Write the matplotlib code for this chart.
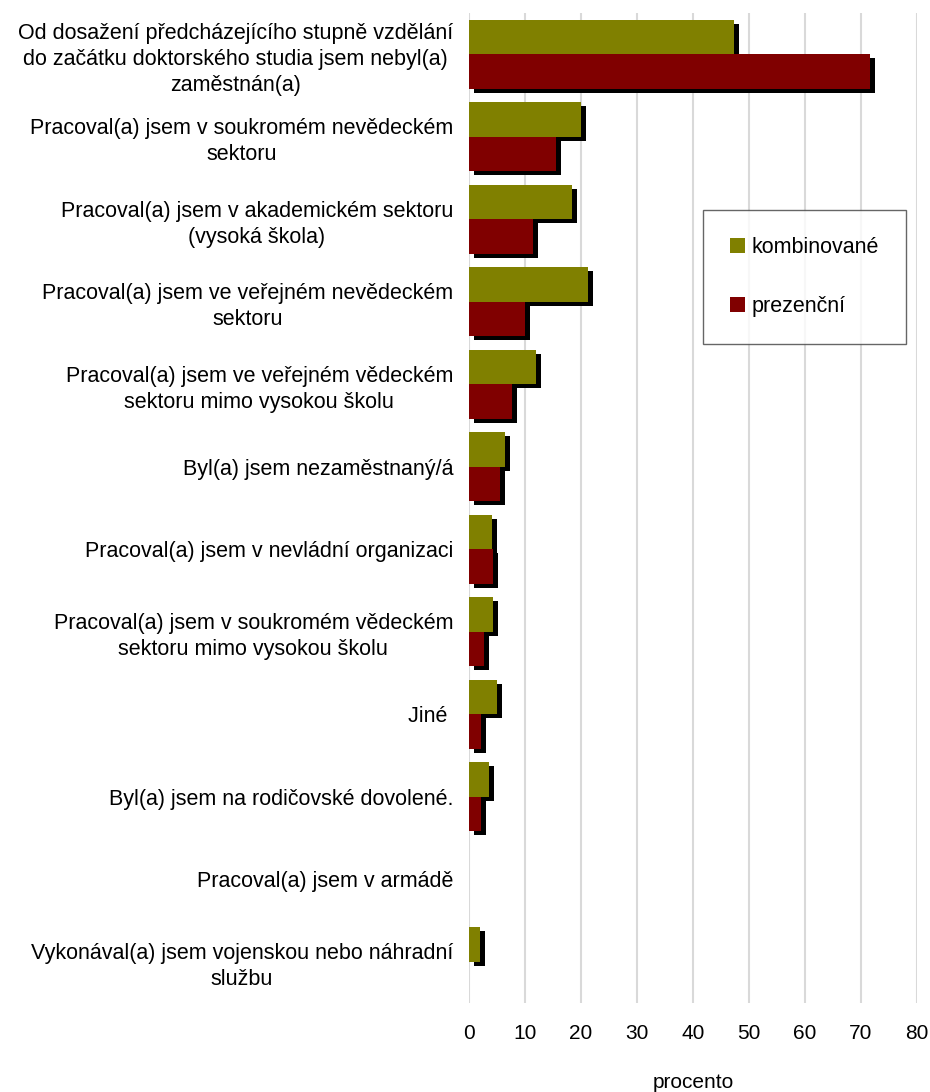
import matplotlib
matplotlib.use("Agg")
import matplotlib.pyplot as plt
import matplotlib.patheffects as pe
import numpy as np

categories = [
    "Od dosažení předcházejícího stupně vzdělání\ndo začátku doktorského studia jsem nebyl(a)\nzaměstnán(a)",
    "Pracoval(a) jsem v soukromém nevědeckém\nsektoru",
    "Pracoval(a) jsem v akademickém sektoru\n(vysoká škola)",
    "Pracoval(a) jsem ve veřejném nevědeckém\nsektoru",
    "Pracoval(a) jsem ve veřejném vědeckém\nsektoru mimo vysokou školu",
    "Byl(a) jsem nezaměstnaný/á",
    "Pracoval(a) jsem v nevládní organizaci",
    "Pracoval(a) jsem v soukromém vědeckém\nsektoru mimo vysokou školu",
    "Jiné ",
    "Byl(a) jsem na rodičovské dovolené.",
    "Pracoval(a) jsem v armádě",
    "Vykonával(a) jsem vojenskou nebo náhradní\nslužbu",
]
kombinovane = [47.3, 20.0, 18.4, 21.2, 12.0, 6.4, 4.1, 4.3, 5.0, 3.6, 0.0, 2.0]
prezencni = [71.6, 15.5, 11.4, 10.0, 7.7, 5.5, 4.3, 2.7, 2.1, 2.1, 0.0, 0.0]
x_ticks = [0, 10, 20, 30, 40, 50, 60, 70, 80]

plt.rcParams['font.family'] = ['Liberation Sans', 'DejaVu Sans']
fs = 15.5

fig = plt.figure(figsize=(9.3, 10.92), dpi=100)
ax = fig.add_axes([469 / 930, 1 - 1003 / 1092, 448 / 930, 990 / 1092])

y = np.arange(len(categories))
h = 0.418
shadow = [pe.SimplePatchShadow(offset=(3.8, -3.0), shadow_rgbFace='black', alpha=1.0), pe.Normal()]

b1 = ax.barh(y - h / 2, kombinovane, height=h, color='#808000', label='kombinované', zorder=3)
b2 = ax.barh(y + h / 2, prezencni, height=h, color='#800000', label='prezenční', zorder=3)
for bars, vals in ((b1, kombinovane), (b2, prezencni)):
    for p, v in zip(bars, vals):
        if v > 0:
            p.set_path_effects(shadow)
        else:
            p.set_visible(False)

ax.set_ylim(len(categories) - 0.5, -0.5)
ax.set_xlim(0, 80)
ax.set_xticks(x_ticks)
ax.set_yticks(y)
ax.set_yticklabels(categories, fontsize=fs)
for lbl in ax.get_yticklabels():
    lbl.set_multialignment('center')
    lbl.set_linespacing(1.32)
ax.tick_params(axis='y', length=0, pad=11.5)
ax.tick_params(axis='x', length=0, pad=15, labelsize=15)
ax.grid(True, axis='x', color='#d9d9d9', linewidth=1.5, zorder=0)
ax.set_axisbelow(True)
for s in ax.spines.values():
    s.set_visible(False)

ax.set_xlabel('procento', fontsize=15, labelpad=22)

leg = ax.legend(loc='upper left', bbox_to_anchor=(0.522, 0.801), fontsize=fs,
                frameon=True, fancybox=False, borderpad=1.25, labelspacing=1.78,
                handlelength=0.7, handleheight=0.7, handletextpad=0.3,
                borderaxespad=0)
leg.get_frame().set_edgecolor('#404040')
leg.get_frame().set_linewidth(1.0)
for hdl in leg.legend_handles:
    hdl.set_path_effects([])

fig.savefig('out.png', dpi=100)
